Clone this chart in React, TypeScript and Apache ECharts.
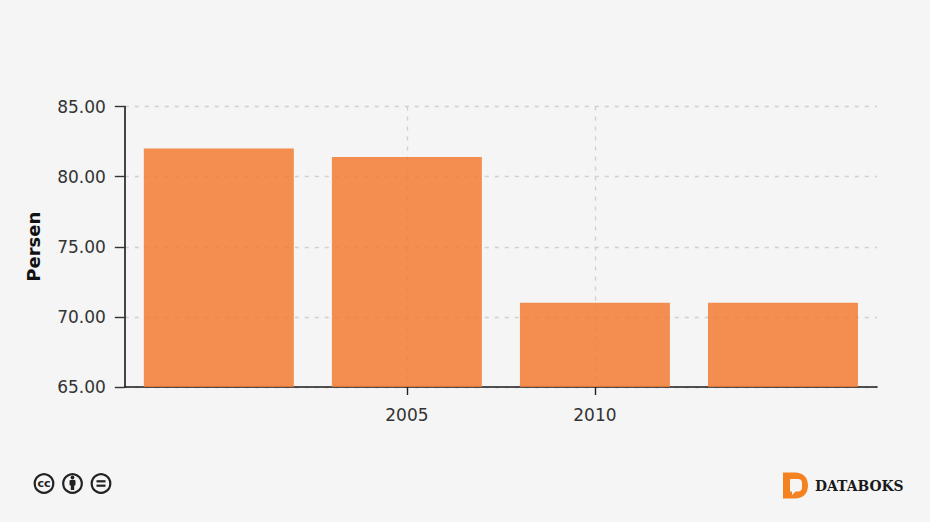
import React, { useEffect, useRef } from "react";
import * as echarts from "echarts";

const categories = ["", "2005", "2010", " "];
const persen = [82, 81.4, 71, 71];
const yTicksMin = 65;
const yTicksMax = 85;
const yInterval = 5;
const axisName = "Persen";
const brand = "DATABOKS";

const logoPath =
  "M0 0 L12 0 C20 0 25 5 25 13 C25 21 20 26 12 26 L0 26 Z M8 6.5 C7.4 6.5 7 6.9 7 7.5 L7 18 C7 18.6 7.4 19 8 19 L9 19 L9 22.5 L12.5 19 L15 19 C17.5 19 19 17.5 19 15 L19 10.5 C19 8 17.5 6.5 15 6.5 Z";

echarts.graphic.registerShape("dbLogo", echarts.graphic.extendPath(logoPath, {}) as any);

const ink = "#222222";

function ccIcons() {
  const ring = (cx: number) => ({
    type: "circle",
    shape: { cx, cy: 483.5, r: 9.3 },
    style: { fill: "#f5f5f5", stroke: ink, lineWidth: 2.2 },
  });
  return [
    ring(44),
    {
      type: "text",
      x: 44,
      y: 483.5,
      style: {
        text: "cc",
        fill: ink,
        font: "bold 11px 'DejaVu Sans'",
        align: "center",
        verticalAlign: "middle",
      },
    },
    ring(72.5),
    { type: "circle", shape: { cx: 72.5, cy: 477.5, r: 1.9 }, style: { fill: ink } },
    { type: "rect", shape: { x: 69.5, y: 480, width: 6, height: 5.5, r: 1 }, style: { fill: ink } },
    { type: "rect", shape: { x: 70.8, y: 484, width: 3.4, height: 6 }, style: { fill: ink } },
    ring(101),
    { type: "rect", shape: { x: 96.5, y: 480.2, width: 9, height: 2.2 }, style: { fill: ink } },
    { type: "rect", shape: { x: 96.5, y: 484.6, width: 9, height: 2.2 }, style: { fill: ink } },
  ];
}

const gridLine = { color: "#d0d0d0", type: [4, 6], width: 1.4 };

export default function App() {
  const ref = useRef<HTMLDivElement>(null);
  useEffect(() => {
    const chart = echarts.init(ref.current!, undefined, { renderer: "svg" });
    chart.setOption({
      animation: false,
      backgroundColor: "#f5f5f5",
      textStyle: { fontFamily: "'DejaVu Sans'" },
      grid: { left: 124.8, right: 53, top: 106.5, bottom: 135 },
      xAxis: {
        type: "category",
        data: categories,
        axisLine: { show: true, lineStyle: { color: "#1a1a1a", width: 1.6 } },
        axisTick: {
          show: true,
          alignWithLabel: true,
          length: 8,
          interval: (_: number, v: string) => v.trim() !== "",
          lineStyle: { color: "#222222", width: 1.4 },
        },
        axisLabel: { interval: 0, color: "#333333", fontSize: 17, margin: 19 },
        splitLine: {
          show: true,
          alignWithLabel: true,
          interval: (_: number, v: string) => v.trim() !== "",
          lineStyle: gridLine,
        },
      },
      yAxis: {
        type: "value",
        min: yTicksMin,
        max: yTicksMax,
        interval: yInterval,
        name: axisName,
        nameLocation: "middle",
        nameGap: 82.5,
        nameTextStyle: { color: "#111111", fontSize: 18, fontWeight: "bold" },
        axisLine: { show: true, lineStyle: { color: "#1a1a1a", width: 1.6 } },
        axisTick: { show: true, length: 10, lineStyle: { color: "#333333", width: 1.4 } },
        axisLabel: {
          color: "#333333",
          fontSize: 17,
          margin: 19,
          formatter: (v: number) => v.toFixed(2),
        },
        splitLine: { show: true, lineStyle: gridLine },
      },
      series: [
        {
          type: "bar",
          data: persen,
          barWidth: 150,
          itemStyle: { color: "#f37b33", opacity: 0.85 },
        },
      ],
      graphic: [
        ...ccIcons(),
        { type: "dbLogo", x: 783, y: 472.5, style: { fill: "#f58220" } },
        {
          type: "text",
          x: 815,
          y: 485.5,
          style: {
            text: brand,
            fill: "#1a1a1a",
            font: "bold 13.9px 'DejaVu Serif'",
            verticalAlign: "middle",
          },
        },
      ],
    });
    return () => chart.dispose();
  }, []);
  return (
    <div
      ref={ref}
      style={{ position: "absolute", left: 0, top: 0, width: 930, height: 522 }}
    />
  );
}
